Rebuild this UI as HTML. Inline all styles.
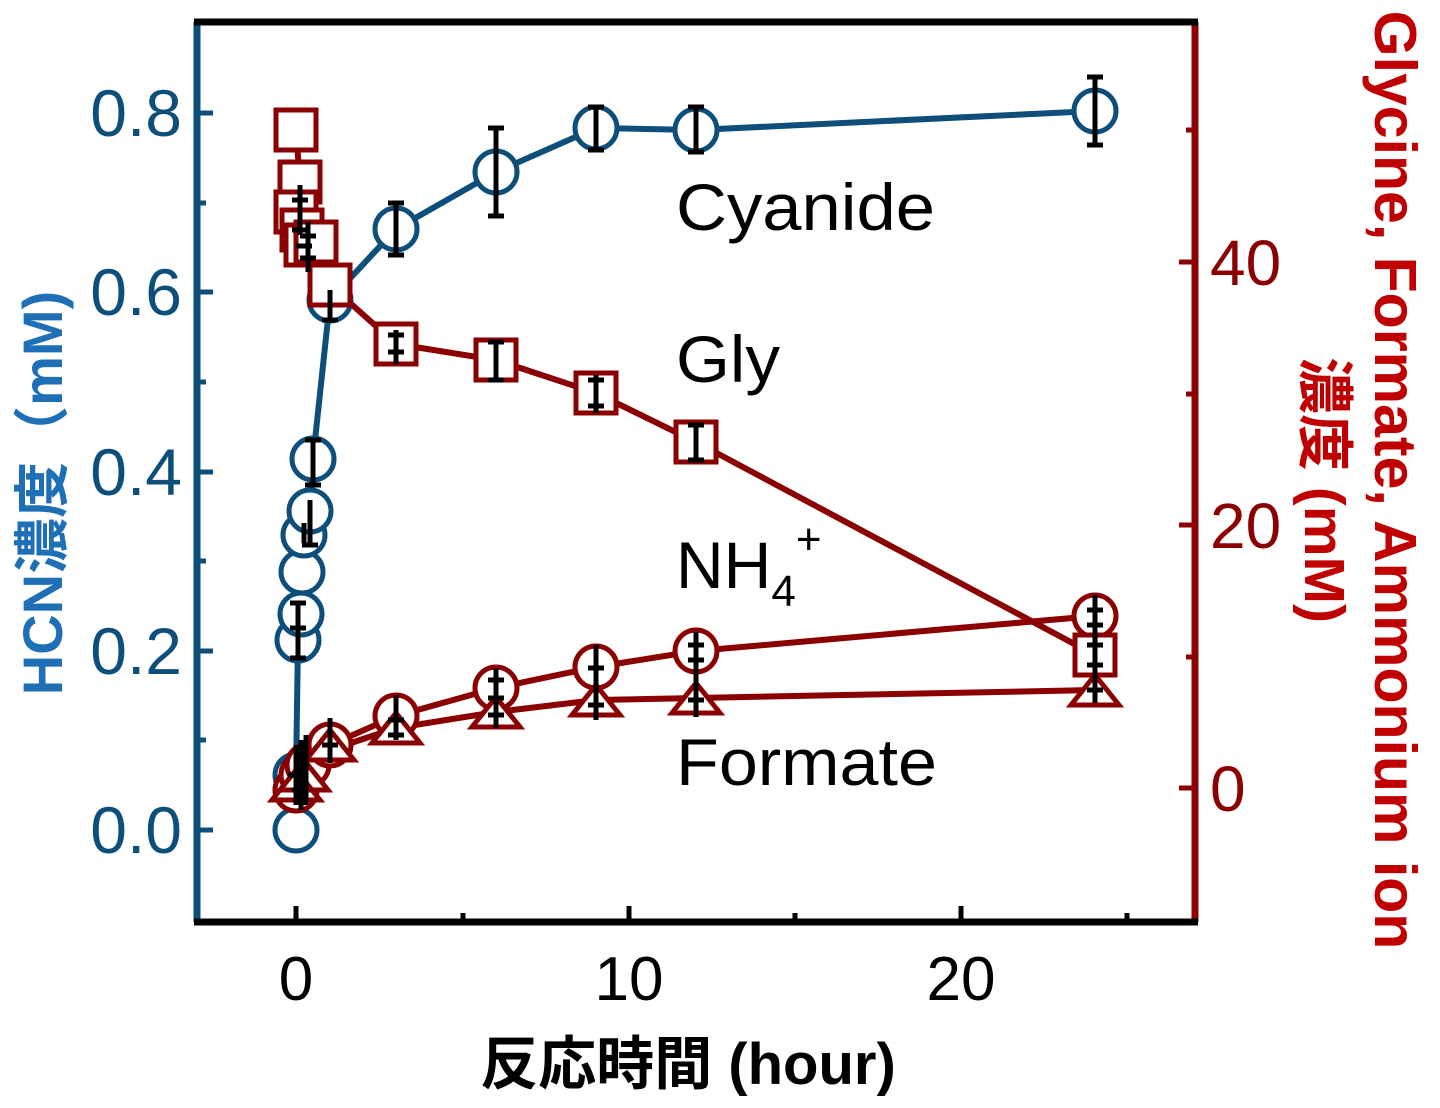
<!DOCTYPE html><html><head><style>body{margin:0;background:#fff}svg{display:block}</style></head><body>
<svg width="1440" height="1108" viewBox="0 0 1440 1108" xmlns="http://www.w3.org/2000/svg" font-family="Liberation Sans, Noto Sans CJK JP, sans-serif">
<g stroke="#0d4f7a" stroke-width="6" fill="none">
<polyline points="296,830 296,775 298,640 301,614 302,572 304,535 310,511 313,459 330,300 396,229 496,172 596,128 696,130 1095,111"/>
</g>
<g stroke="#8b0000" stroke-width="6" fill="none">
<polyline points="296,130 300,182 296,212 302,230 306,245 316,242 330,285 396,344 496,360 596,393 696,442 1095,655"/>
<polyline points="296,790 300,775 306,765 330,745 396,716 496,688 596,667 696,651 1095,616"/>
<polyline points="296,790 302,780 310,772 330,750 396,728 496,712 596,700 696,698 1095,690"/>
</g>
<g stroke="#0d4f7a" stroke-width="5" fill="#fff">
<circle cx="296" cy="830" r="21"/><circle cx="296" cy="775" r="21"/><circle cx="298" cy="640" r="21"/><circle cx="301" cy="614" r="21"/><circle cx="302" cy="572" r="21"/><circle cx="304" cy="535" r="21"/><circle cx="310" cy="511" r="21"/><circle cx="313" cy="459" r="21"/><circle cx="330" cy="300" r="21"/><circle cx="396" cy="229" r="21"/><circle cx="496" cy="172" r="21"/><circle cx="596" cy="128" r="21"/><circle cx="696" cy="130" r="21"/><circle cx="1095" cy="111" r="21"/>
</g>
<g stroke="#8b0000" stroke-width="5" fill="#fff">
<circle cx="296" cy="790" r="21"/><circle cx="302" cy="775" r="21"/><circle cx="308" cy="765" r="21"/><circle cx="330" cy="745" r="21"/><circle cx="396" cy="716" r="21"/><circle cx="496" cy="688" r="21"/><circle cx="596" cy="667" r="21"/><circle cx="696" cy="651" r="21"/><circle cx="1095" cy="616" r="21"/>
<path d="M296,770 l24,30 h-48z M304,760 l24,30 h-48z M330,730 l24,30 h-48z M396,713 l24,30 h-48z M496,697 l24,30 h-48z M596,685 l24,30 h-48z M696,683 l24,30 h-48z M1095,675 l24,30 h-48z"/>
<rect x="276" y="110" width="40" height="40"/><rect x="280" y="162" width="40" height="40"/><rect x="276" y="192" width="40" height="40"/><rect x="282" y="210" width="40" height="40"/><rect x="286" y="225" width="40" height="40"/><rect x="296" y="222" width="40" height="40"/><rect x="310" y="265" width="40" height="40"/><rect x="376" y="324" width="40" height="40"/><rect x="476" y="340" width="40" height="40"/><rect x="576" y="373" width="40" height="40"/><rect x="676" y="422" width="40" height="40"/><rect x="1075" y="635" width="40" height="40"/>
</g>
<g stroke="#000" stroke-width="5">
<path d="M1095,77v68M1087,77h16M1087,145h16 M596,107v43M588,107h16M588,150h16 M696,107v45M688,107h16M688,152h16 M496,128v88M488,128h16M488,216h16 M396,203v52M388,203h16M388,255h16 M330,290v30M322,320h16 M313,440v45M305,440h16M305,485h16 M310,500v45M302,545h16 M304,523v20M298,603v25M290,603h16M290,628h16 M298,628v30M290,658h16"/>
<path d="M396,330v34M388,335h16M388,352h16 M496,342v38M488,342h16M488,380h16 M596,375v38M588,380h16M588,406h16 M696,425v35M688,425h16M688,460h16 M1095,640v30M1087,645h16M1087,665h16"/>
<path d="M1095,595v45M1087,610h16M1087,625h16 M696,632v40M688,645h16M688,660h16 M596,645v45M588,668h16 M496,668v42M488,680h16M488,698h16 M396,695v45M388,720h16M388,735h16 M330,718v45M322,745h16"/>
<path d="M1095,668v35M1087,690h16 M696,672v45M688,700h16 M596,672v48M588,705h16 M496,690v38M488,715h16 M301,740v70M306,735v70M296,745v60M288,775h16M292,790h16 M300,185v50M292,200h16M292,230h16M296,246h16 M308,222v50M300,236h16M300,258h16"/>
</g>
<g stroke-width="7" fill="none">
<path d="M197,22V922" stroke="#0d4f7a"/>
<path d="M1195,22V922" stroke="#8b0000"/>
<path d="M194,922H1198" stroke="#000"/>
<path d="M194,22H1198" stroke="#000"/>
</g>
<g stroke="#0d4f7a" stroke-width="5">
<path d="M197,830h16M197,651h16M197,472h16M197,292h16M197,113h16M197,740h9M197,561h9M197,382h9M197,203h9"/>
</g>
<g stroke="#8b0000" stroke-width="5">
<path d="M1195,788h-16M1195,525h-16M1195,262h-16M1195,657h-9M1195,394h-9M1195,130h-9"/>
</g>
<g stroke="#000" stroke-width="5">
<path d="M296,922v-16M629,922v-16M961,922v-16M463,922v-9M795,922v-9M1127,922v-9"/>
</g>
<g fill="#0d4f7a" font-size="66" text-anchor="end">
<text x="182" y="853">0.0</text><text x="182" y="674">0.2</text><text x="182" y="495">0.4</text><text x="182" y="315">0.6</text><text x="182" y="136">0.8</text>
</g>
<g fill="#8b0000" font-size="64">
<text x="1210" y="811">0</text><text x="1210" y="548">20</text><text x="1210" y="285">40</text>
</g>
<g fill="#000" font-size="62" text-anchor="middle">
<text x="296" y="1000">0</text><text x="629" y="1000">10</text><text x="961" y="1000">20</text>
</g>
<g fill="#000" font-size="66">
<text x="676" y="230" textLength="259" lengthAdjust="spacingAndGlyphs">Cyanide</text><text x="676" y="382" textLength="104" lengthAdjust="spacingAndGlyphs">Gly</text>
<text x="676" y="588">NH<tspan font-size="44" dy="18">4</tspan><tspan font-size="44" dy="-52">+</tspan></text>
<text x="676" y="785" textLength="261" lengthAdjust="spacingAndGlyphs">Formate</text>
</g>
<text x="688" y="1084" text-anchor="middle" font-size="58" font-weight="bold" fill="#000">反応時間 (hour)</text>
<text transform="translate(62,493) rotate(-90)" text-anchor="middle" font-size="56" font-weight="bold" fill="#1e6fb5">HCN濃度（mM)</text>
<text transform="translate(1375,480) rotate(90)" text-anchor="middle" font-size="59" font-weight="bold" fill="#c00000">Glycine, Formate, Ammonium ion</text>
<text transform="translate(1305,490) rotate(90)" text-anchor="middle" font-size="57" font-weight="bold" fill="#c00000">濃度 (mM)</text>
</svg>
</body></html>
